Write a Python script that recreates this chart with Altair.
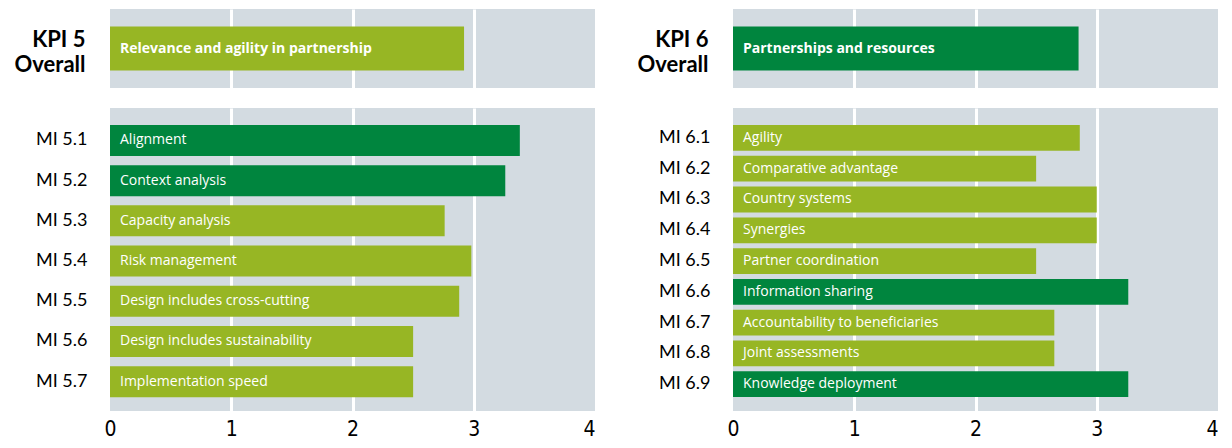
import altair as alt
import pandas as pd

# ---- data ----
kpi5_cat = ["KPI 5\nOverall"]
kpi5_text = ["Relevance and agility in partnership"]
kpi5_val = [2.92]
kpi5_lvl = ["light"]

mi5_cat = ["MI 5.1", "MI 5.2", "MI 5.3", "MI 5.4", "MI 5.5", "MI 5.6", "MI 5.7"]
mi5_text = ["Alignment", "Context analysis", "Capacity analysis", "Risk management",
            "Design includes cross-cutting", "Design includes sustainability",
            "Implementation speed"]
mi5_val = [3.38, 3.26, 2.76, 2.98, 2.88, 2.50, 2.50]
mi5_lvl = ["dark", "dark", "light", "light", "light", "light", "light"]

kpi6_cat = ["KPI 6\nOverall"]
kpi6_text = ["Partnerships and resources"]
kpi6_val = [2.85]
kpi6_lvl = ["dark"]

mi6_cat = ["MI 6.1", "MI 6.2", "MI 6.3", "MI 6.4", "MI 6.5", "MI 6.6", "MI 6.7", "MI 6.8", "MI 6.9"]
mi6_text = ["Agility", "Comparative advantage", "Country systems", "Synergies",
            "Partner coordination", "Information sharing", "Accountability to beneficiaries",
            "Joint assessments", "Knowledge deployment"]
mi6_val = [2.86, 2.50, 3.00, 3.00, 2.50, 3.26, 2.65, 2.65, 3.26]
mi6_lvl = ["light", "light", "light", "light", "light", "dark", "light", "light", "dark"]

x_ticks = [0, 1, 2, 3, 4]

DARK = "#00853E"
LIGHT = "#97B624"
GRAY = "#D3DBE1"

color_scale = alt.Scale(domain=["dark", "light"], range=[DARK, LIGHT])
grid_color = {"condition": {"test": "datum.value == 0 || datum.value == 4", "value": "transparent"},
              "value": "white"}
label_align = {"condition": {"test": "datum.value == 4", "value": "right"}, "value": "center"}

PW = 485
BAR_FONT = "Open Sans"


def block(cats, texts, vals, lvls, height, top, pad_inner, pad_outer, align):
    df = pd.DataFrame({"cat": cats, "txt": texts, "val": vals, "lvl": lvls})
    if top:
        xaxis = alt.Axis(values=x_ticks, labels=False, ticks=False, domain=False, grid=True,
                         gridColor=grid_color, gridWidth=3, title=None)
        yaxis = alt.Axis(title=None, ticks=False, domain=False, labelFont="Lato",
                         labelFontWeight="bold", labelFontSize=22, labelColor="black",
                         labelPadding=25, labelLineHeight=25, labelOffset=-9,
                         minExtent=102, maxExtent=102,
                         labelExpr="split(datum.label, '\\n')")
    else:
        xaxis = alt.Axis(values=x_ticks, format="d", ticks=False, domain=False, grid=True,
                         gridColor=grid_color, gridWidth=3, title=None,
                         labelFont="DejaVu Sans Condensed, Lato", labelFontSize=21,
                         labelColor="black", labelPadding=7, labelFlush=False,
                         labelAlign=label_align)
        yaxis = alt.Axis(title=None, ticks=False, domain=False, labelFont="Lato",
                         labelFontSize=18, labelColor="black", labelPadding=23,
                         minExtent=102, maxExtent=102)
    x = alt.X("val:Q", scale=alt.Scale(domain=[0, 4], nice=False, zero=True), axis=xaxis)
    y = alt.Y("cat:N", sort=None,
              scale=alt.Scale(paddingInner=pad_inner, paddingOuter=pad_outer, align=align),
              axis=yaxis)
    bars = alt.Chart(df).mark_bar().encode(
        x=x, y=y,
        color=alt.Color("lvl:N", scale=color_scale, legend=None),
    )
    text = alt.Chart(df).mark_text(
        align="left", baseline="middle", dx=10, color="white", font=BAR_FONT,
        fontSize=14, fontWeight="bold" if top else "normal",
    ).encode(x=alt.datum(0), y=alt.Y("cat:N", sort=None), text="txt:N")
    return alt.layer(bars, text).properties(width=PW, height=height)


left = alt.vconcat(
    block(kpi5_cat, kpi5_text, kpi5_val, kpi5_lvl, 79, True, 0.0, 0.4, 0.5),
    block(mi5_cat, mi5_text, mi5_val, mi5_lvl, 303, False, 0.229, 0.383, 0.55),
    spacing=20,
)
right = alt.vconcat(
    block(kpi6_cat, kpi6_text, kpi6_val, kpi6_lvl, 79, True, 0.0, 0.4, 0.5),
    block(mi6_cat, mi6_text, mi6_val, mi6_lvl, 303, False, 0.163, 0.504, 0.55),
    spacing=20,
)

chart = alt.hconcat(left, right, spacing=36).properties(
    padding={"left": 0, "top": 1, "right": 0, "bottom": 0}
).configure_view(fill=GRAY, stroke=None).resolve_scale(y="independent")

chart.save("out.html", embed_options={"renderer": "svg", "actions": False})
